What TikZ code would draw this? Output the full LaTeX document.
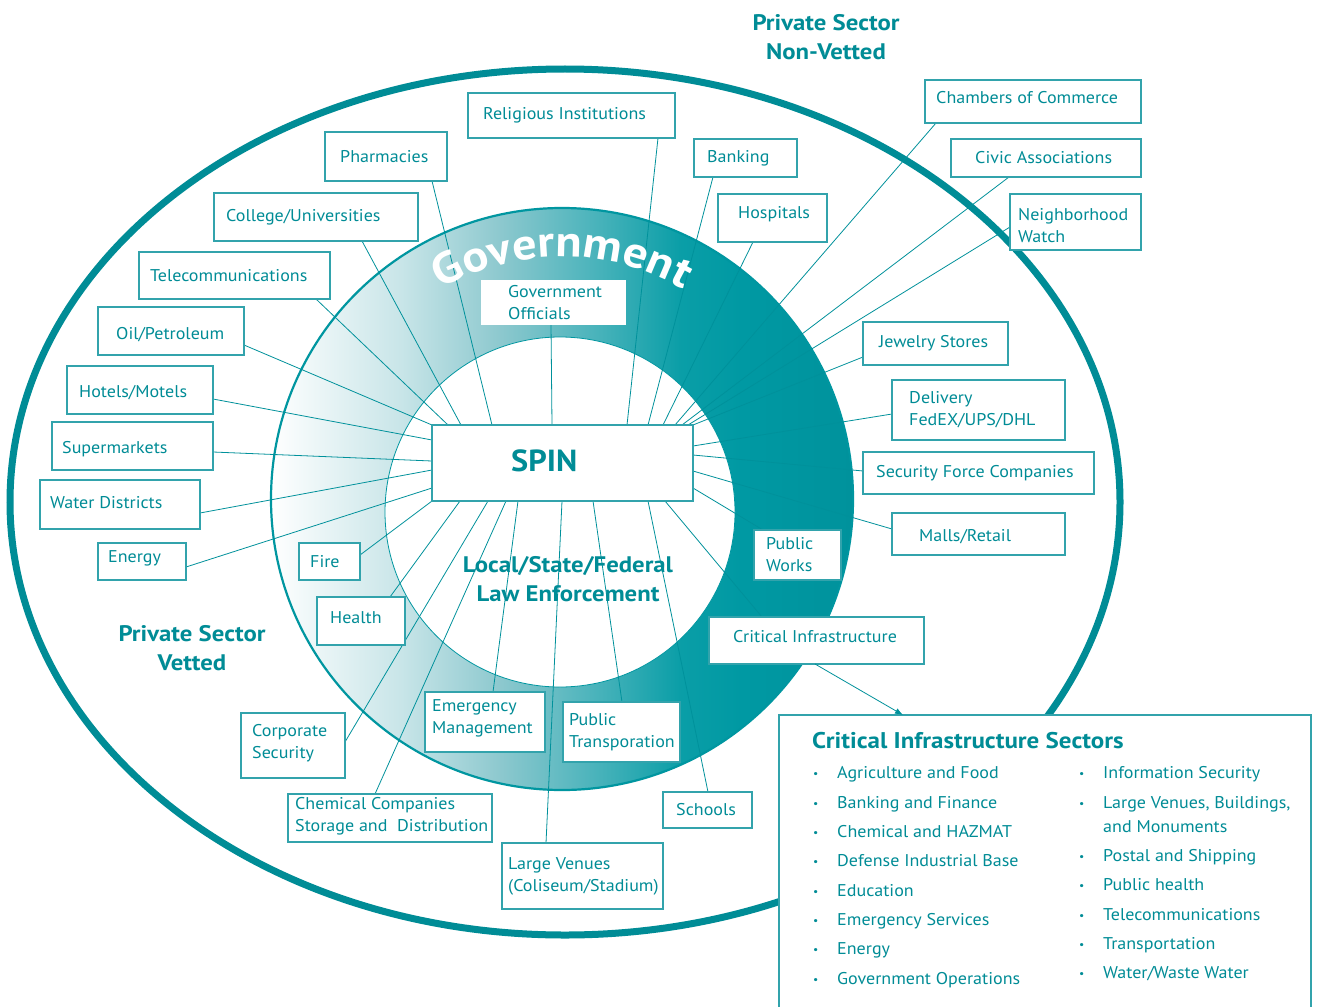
\documentclass[tikz,border=0pt]{standalone}
\usepackage{fontspec}
\setmainfont{PT Sans}[FakeStretch=1.06]
\newfontfamily\hfam{PT Sans}[FakeStretch=1.1]
\usetikzlibrary{decorations.text,arrows.meta,calc}
\definecolor{tl}{RGB}{0,140,150}
\definecolor{ellc}{RGB}{0,140,150}
\definecolor{bc}{RGB}{50,163,172}
\definecolor{lc}{RGB}{0,145,155}
\definecolor{rc}{RGB}{0,150,160}
\definecolor{sa}{RGB}{200,229,232}
\definecolor{sb}{RGB}{140,200,206}
\definecolor{sc}{RGB}{70,178,186}
\definecolor{sd}{RGB}{10,158,167}
\definecolor{se}{RGB}{0,153,163}
\definecolor{sf}{RGB}{0,146,156}
\pgfdeclarehorizontalshading{ringsh}{100bp}{color(0bp)=(white); color(25bp)=(white); color(36.2bp)=(sa); color(44.8bp)=(sb); color(53.3bp)=(sc); color(60.2bp)=(sd); color(65.4bp)=(se); color(75bp)=(sf); color(100bp)=(sf)}
\pgfdeclarelayer{back}
\pgfdeclarelayer{ring}
\pgfdeclarelayer{lines}
\pgfsetlayers{back,ring,lines,main}
\newcommand\lblfont{\fontsize{17}{22}\selectfont}
\newcommand\headfont{\hfam\fontsize{22.5}{29}\selectfont\bfseries}
\newcommand\bul{{\fontsize{11}{11}\selectfont\raisebox{1pt}{•}}}
\newcommand\bx[9][box]{%
 \pgfmathsetmacro\bw{#5-#3}\pgfmathsetmacro\bh{#6-#4}%
 \pgfmathsetmacro\bcx{(#3+#5)/2}\pgfmathsetmacro\bcy{(#4+#6)/2}%
 \node[#1, minimum width=\bw pt, minimum height=\bh pt] (#2) at (\bcx,\bcy) {};
 \node[lbl, anchor=west] (#2t) at ([xshift=#7pt, yshift=#8pt]#2.west) {#9};}
\begin{document}
\begin{tikzpicture}[x=1pt,y=-1pt,
  box/.style={draw=bc, line width=1.1pt, fill=white, inner sep=0pt, outer sep=0pt},
  plain/.style={fill=white, inner sep=0pt, outer sep=0pt},
  lbl/.style={text=tl, font=\lblfont, align=left, inner sep=0pt},
  head/.style={text=tl, font=\headfont, align=center, inner sep=0pt},
  item/.style={text=tl, font=\lblfont, inner sep=0pt, anchor=base west},
  conn/.style={draw=lc, line width=0.8pt}]
\useasboundingbox (0,0) rectangle (1321,1006);
\begin{pgfonlayer}{back}
\fill[white] (0,0) rectangle (1321,1006);
\draw[ellc, line width=7pt] (565,502) ellipse (555 and 433);
\end{pgfonlayer}
\begin{pgfonlayer}{ring}
\shade[shading=ringsh] (562,499) circle (291);
\fill[white] (560,512) circle (175);
\draw[rc, line width=2.2pt] (562,499) circle (291);
\draw[rc, line width=0.8pt] (560,512) circle (175);
\end{pgfonlayer}
% boxes
\bx{rel}{468}{93}{675}{138}{15}{0}{Religious Institutions}
\bx{pha}{325}{132}{447}{181}{15}{0}{Pharmacies}
\bx{ban}{694}{139}{797}{177}{13}{0}{Banking}
\bx{hos}{718}{194}{827}{242}{20}{4}{Hospitals}
\bx{col}{214}{193}{418}{241}{12}{0}{College/Universities}
\bx{tel}{139}{252}{330}{299}{11}{0}{Telecommunications}
\bx{oil}{98}{307}{244}{355}{18}{-4}{Oil/Petroleum}
\bx{hot}{67}{366}{213}{414}{12}{-3}{Hotels/Motels}
\bx{sup}{52}{422}{213}{470}{10}{-3}{Supermarkets}
\bx{wat}{40}{480}{200}{529}{10}{2}{Water Districts}
\bx{ene}{98}{543}{186}{580}{10}{3}{Energy}
\bx{fir}{299}{543}{360}{580}{11}{0}{Fire}
\bx{hea}{317}{597}{405}{645}{13}{3}{Health}
\bx{cor}{241}{713}{345}{778}{11}{2}{Corporate\\Security}
\bx{che}{288}{794}{492}{842}{7}{2}{Chemical Companies\\Storage and~ Distribution}
\bx{eme}{425}{692}{545}{752}{7}{4}{Emergency\\Management}
\bx{pub}{563}{702}{680}{762}{6}{0}{Public\\Transporation}
\bx{lar}{502}{843}{663}{909}{6}{0}{Large Venues\\(Coliseum/Stadium)}
\bx{sch}{663}{792}{752}{828}{13}{0}{Schools}
\bx{cri}{709}{617}{924}{664}{24}{4}{Critical Infrastructure}
\bx{pwo}{754}{530}{841}{580}{12}{0}{Public\\Works}
\bx{mal}{892}{513}{1065}{555}{27}{-3}{Malls/Retail}
\bx{sec}{863}{452}{1094}{494}{13}{0}{Security Force Companies}
\bx{del}{892}{380}{1065}{440}{17}{0}{Delivery\\FedEX/UPS/DHL}
\bx{jew}{863}{322}{1008}{365}{16}{0}{Jewelry Stores}
\bx{nei}{1010}{194}{1141}{250}{8}{-4}{Neighborhood\\Watch}
\bx{civ}{951}{139}{1141}{177}{24}{0}{Civic Associations}
\bx{cha}{925}{80}{1141}{123}{11}{4}{Chambers of Commerce}
\bx[plain]{gov}{481}{280}{626}{325}{27}{0}{Government\\Officials}
\node[box, minimum width=261pt, minimum height=76pt] (spin) at (562.5,463) {};
\node[text=tl, font=\fontsize{30.5}{30}\selectfont\bfseries, inner sep=0pt, anchor=west] (spint) at ([xshift=79pt, yshift=2pt]spin.west) {SPIN};
% legend box
\node[box, minimum width=532pt, minimum height=330pt, anchor=north west] (leg) at (779,715) {};
% connectors
\begin{pgfonlayer}{lines}
\draw[conn] ([xshift=190pt]rel.south west) -- ([xshift=195pt]spin.north west);
\draw[conn] ([xshift=107pt]pha.south west) -- ([xshift=60pt]spin.north west);
\draw[conn] ([xshift=19pt]ban.south west) -- ([xshift=216pt]spin.north west);
\draw[conn] ([xshift=35pt]hos.south west) -- ([xshift=231pt]spin.north west);
\draw[conn] ([xshift=148pt]col.south west) -- ([xshift=29pt]spin.north west);
\draw[conn] ([xshift=177pt]tel.south west) -- ([xshift=16pt]spin.north west);
\draw[conn] ([yshift=-38pt]oil.north east) -- (spin.north west);
\draw[conn] ([yshift=-33pt]hot.north east) -- ([yshift=-15pt]spin.north west);
\draw[conn] ([yshift=-30pt]sup.north east) -- ([yshift=-36pt]spin.north west);
\draw[conn] ([yshift=-33pt]wat.north east) -- ([yshift=-45pt]spin.north west);
\draw[conn] ([yshift=-24pt]ene.north east) -- ([yshift=-63pt]spin.north west);
\draw[conn] ([yshift=-12pt]fir.north east) -- (spin.south west);
\draw[conn] ([xshift=73pt]hea.north west) -- ([xshift=28pt]spin.south west);
\draw[conn] ([yshift=-29pt]cor.north east) -- ([xshift=56pt]spin.south west);
\draw[conn] ([xshift=87pt]che.north west) -- ([xshift=74pt]spin.south west);
\draw[conn] ([xshift=68pt]eme.north west) -- ([xshift=86pt]spin.south west);
\draw[conn] ([xshift=44pt]lar.north west) -- ([xshift=130pt]spin.south west);
\draw[conn] ([xshift=59pt]pub.north west) -- ([xshift=161pt]spin.south west);
\draw[conn] ([xshift=45pt]sch.north west) -- ([xshift=216pt]spin.south west);
\draw[conn] ([xshift=53pt]cri.north west) -- ([xshift=233pt]spin.south west);
\draw[conn] ([xshift=9pt]pwo.north west) -- ([yshift=-63pt]spin.north east);
\draw[conn] ([yshift=-16pt]mal.north west) -- ([yshift=-46pt]spin.north east);
\draw[conn] ([yshift=-19pt]sec.north west) -- ([yshift=-30pt]spin.north east);
\draw[conn] ([yshift=-34pt]del.north west) -- ([yshift=-21pt]spin.north east);
\draw[conn] ([yshift=-35pt]jew.north west) -- (spin.north east);
\draw[conn] ([yshift=-33pt]nei.north west) -- ([xshift=256pt]spin.north west);
\draw[conn] ([xshift=58pt]civ.south west) -- ([xshift=250pt]spin.north west);
\draw[conn] ([xshift=11pt]cha.south west) -- ([xshift=243pt]spin.north west);
\draw[conn] ([xshift=70pt]gov.south west) -- ([xshift=120pt]spin.north west);
\end{pgfonlayer}
\draw[conn, -{Latex[length=8pt,width=6pt]}] ([xshift=106pt]cri.south west) -- ([xshift=124pt]leg.north west);
% curved Government
\path[decorate, decoration={text along path, text align=center,
  text={|\hfam\fontsize{44}{44}\selectfont\bfseries\color{white}|Government}}]
  (562,499) ++(-152:242) arc[start angle=-152, end angle=-28, radius=242];
% headings
\node[head] (psn) at (826,37.5) {Private Sector\\Non-Vetted};
\node[head] (psv) at (192,648.5) {Private Sector\\Vetted};
\node[head] (lsf) at (568,579.5) {Local/State/Federal\\Law Enforcement};
\node[text=tl, font=\hfam\fontsize{22.7}{24}\selectfont\bfseries, inner sep=0pt, anchor=base west] (cist) at (812,748) {Critical Infrastructure Sectors};
% legend items
\node[item] (a1) at (813,778) {\makebox[24pt][l]{\bul}Agriculture and Food};
\node[item] (a2) at (813,808) {\makebox[24pt][l]{\bul}Banking and Finance};
\node[item] (a3) at (813,837) {\makebox[24pt][l]{\bul}Chemical and HAZMAT};
\node[item] (a4) at (813,866) {\makebox[24pt][l]{\bul}Defense Industrial Base};
\node[item] (a5) at (813,896) {\makebox[24pt][l]{\bul}Education};
\node[item] (a6) at (813,925) {\makebox[24pt][l]{\bul}Emergency Services};
\node[item] (a7) at (813,954) {\makebox[24pt][l]{\bul}Energy};
\node[item] (a8) at (813,984) {\makebox[24pt][l]{\bul}Government Operations};
\node[item] (b1) at (1079,778) {\makebox[24pt][l]{\bul}Information Security};
\node[item] (b2) at (1079,808) {\makebox[24pt][l]{\bul}Large Venues, Buildings,};
\node[item] (b2b) at (1103,832) {and Monuments};
\node[item] (b3) at (1079,861) {\makebox[24pt][l]{\bul}Postal and Shipping};
\node[item] (b4) at (1079,890) {\makebox[24pt][l]{\bul}Public health};
\node[item] (b5) at (1079,920) {\makebox[24pt][l]{\bul}Telecommunications};
\node[item] (b6) at (1079,949) {\makebox[24pt][l]{\bul}Transportation};
\node[item] (b7) at (1079,978) {\makebox[24pt][l]{\bul}Water/Waste Water};
\end{tikzpicture}
\end{document}
